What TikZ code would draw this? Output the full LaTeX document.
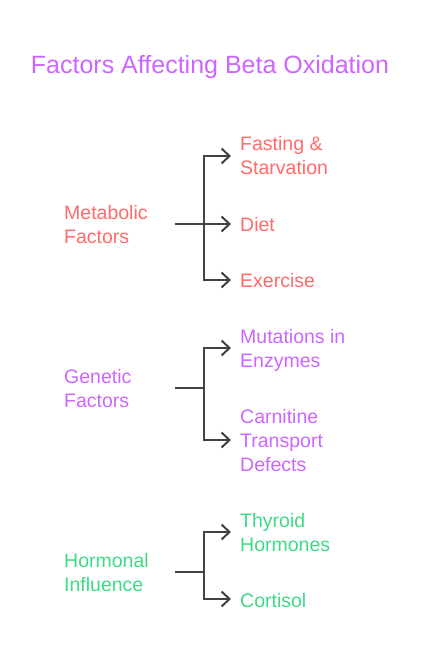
\documentclass[tikz,border=0pt]{standalone}
\usepackage{fontspec}
\setmainfont{Liberation Sans}
\usetikzlibrary{arrows.meta}
\definecolor{cred}{HTML}{FF6B6B}
\definecolor{cpurple}{HTML}{CC66FF}
\definecolor{cgreen}{HTML}{3DDC84}
\definecolor{cline}{HTML}{424242}
\newcommand{\lines}[1]{\begin{tabular}[t]{@{}l@{}}#1\end{tabular}}
\begin{document}
\begin{tikzpicture}[x=1pt,y=-1pt,
  title/.style={font=\fontsize{25}{30}\selectfont, text=cpurple, inner sep=0pt, anchor=base},
  lbl/.style={font=\fontsize{19.5}{24}\selectfont, inner sep=0pt, anchor=base west},
  conn/.style={draw=cline, line width=2pt},
  arr/.style={conn, -{Straight Barb[length=8pt,width=15pt,line width=2pt]}}]
\fill[white] (0,0) rectangle (420,660);
\useasboundingbox (0,0) rectangle (420,660);

\node[title] (t) at (210,74) {Factors Affecting Beta Oxidation};

% Metabolic
\node[lbl, text=cred] (m) at (64,219) {\lines{Metabolic\\Factors}};
\node[lbl, text=cred] (m1) at (240,151) {\lines{Fasting \&\\Starvation}};
\node[lbl, text=cred] (m2) at (240,231) {Diet};
\node[lbl, text=cred] (m3) at (240,287) {Exercise};
\coordinate (ms) at (175,224);
\coordinate (mj) at (204,224);
\coordinate (ma1) at (231,156);
\coordinate (ma2) at (231,224);
\coordinate (ma3) at (231,280);
\draw[conn] (ms) -- (mj);
\draw[arr] (mj) |- (ma1);
\draw[arr] (mj) -- (ma2);
\draw[arr] (mj) |- (ma3);

% Genetic
\node[lbl, text=cpurple] (g) at (64,383) {\lines{Genetic\\Factors}};
\node[lbl, text=cpurple] (g1) at (240,343) {\lines{Mutations in\\Enzymes}};
\node[lbl, text=cpurple] (g2) at (240,423) {\lines{Carnitine\\Transport\\Defects}};
\coordinate (gs) at (175,388);
\coordinate (gj) at (204,388);
\coordinate (ga1) at (231,348);
\coordinate (ga2) at (231,440);
\draw[conn] (gs) -- (gj);
\draw[arr] (gj) |- (ga1);
\draw[arr] (gj) |- (ga2);

% Hormonal
\node[lbl, text=cgreen] (h) at (64,567) {\lines{Hormonal\\Influence}};
\node[lbl, text=cgreen] (h1) at (240,527) {\lines{Thyroid\\Hormones}};
\node[lbl, text=cgreen] (h2) at (240,607) {Cortisol};
\coordinate (hs) at (175,572);
\coordinate (hj) at (204,572);
\coordinate (ha1) at (231,532);
\coordinate (ha2) at (231,599);
\draw[conn] (hs) -- (hj);
\draw[arr] (hj) |- (ha1);
\draw[arr] (hj) |- (ha2);
\end{tikzpicture}
\end{document}
